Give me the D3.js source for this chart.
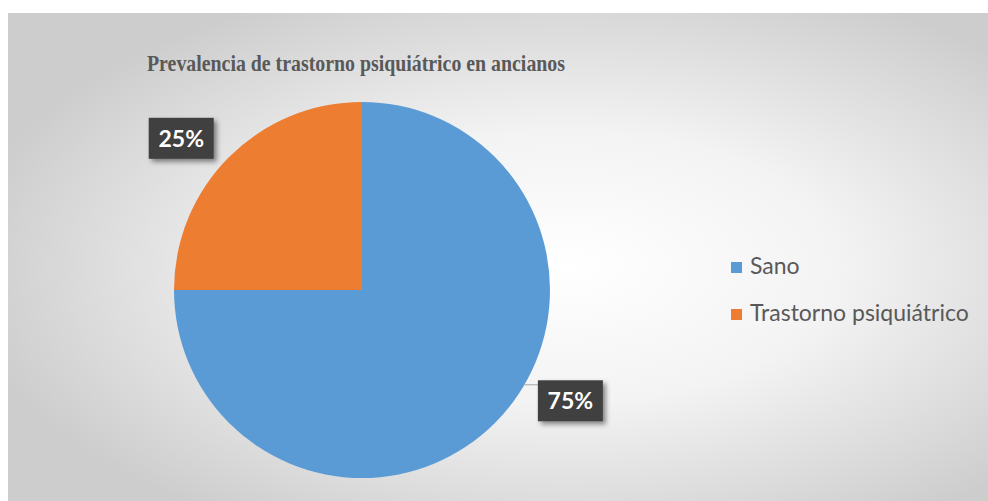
<!DOCTYPE html>
<html>
<head>
<meta charset="utf-8">
<script src="https://cdn.jsdelivr.net/npm/d3@7"></script>
<style>
  html, body { margin: 0; padding: 0; background: #ffffff; }
  svg { display: block; }
</style>
</head>
<body>
<svg id="chart" width="988" height="501"></svg>
<script>
// Data
const categories = ["Sano", "Trastorno psiquiátrico"];
const values = [75, 25];
const colors = ["#5B9BD5", "#ED7D31"];
const chartTitle = "Prevalencia de trastorno psiquiátrico en ancianos";

const width = 988, height = 501;
const svg = d3.select("#chart");
const defs = svg.append("defs");

// Soft radial background of the chart area
const bg = defs.append("radialGradient")
  .attr("id", "bgGrad")
  .attr("cx", "57%").attr("cy", "52%").attr("r", "62%");
bg.append("stop").attr("offset", "0%").attr("stop-color", "#ffffff");
bg.append("stop").attr("offset", "45%").attr("stop-color", "#f3f3f3");
bg.append("stop").attr("offset", "100%").attr("stop-color", "#cdcdcd");

const shadow = defs.append("filter").attr("id", "labelShadow")
  .attr("x", "-30%").attr("y", "-30%").attr("width", "170%").attr("height", "170%");
shadow.append("feDropShadow")
  .attr("dx", 3).attr("dy", 3).attr("stdDeviation", 2.5)
  .attr("flood-color", "#000").attr("flood-opacity", 0.45);

svg.append("rect")
  .attr("x", 8).attr("y", 13)
  .attr("width", width - 8).attr("height", height - 13)
  .attr("fill", "url(#bgGrad)");

// Title
svg.append("text")
  .attr("x", 147).attr("y", 71)
  .attr("font-family", "'Liberation Serif', 'DejaVu Serif', serif")
  .attr("font-weight", "bold")
  .attr("font-size", 24)
  .attr("textLength", 418)
  .attr("lengthAdjust", "spacingAndGlyphs")
  .attr("fill", "#595959")
  .text(chartTitle);

// Pie
const cx = 362, cy = 290, radius = 188;
const data = categories.map((c, i) => ({ name: c, value: values[i], color: colors[i] }));
const pie = d3.pie().value(d => d.value).sort(null);
const arcs = pie(data);
const arc = d3.arc().innerRadius(0).outerRadius(radius);

const g = svg.append("g").attr("transform", `translate(${cx},${cy})`);
g.selectAll("path.slice")
  .data(arcs)
  .join("path")
  .attr("class", "slice")
  .attr("d", arc)
  .attr("fill", d => d.data.color);

// Data labels placed outside the pie (best-fit style)
const labelRadius = 236;
const labelNudge = [-17 * Math.PI / 180, -5 * Math.PI / 180];
const total = d3.sum(values);
const fmt = v => Math.round(v / total * 100) + "%";

arcs.forEach((a, i) => {
  const ang = (a.startAngle + a.endAngle) / 2 + labelNudge[i];
  const lx = Math.sin(ang) * labelRadius;
  const ly = -Math.cos(ang) * labelRadius;
  const bw = 65, bh = 41;

  if (i === 0) {
    // leader line from the slice edge to the label box
    const ey = ly - 16;
    const ex = Math.sqrt(radius * radius - ey * ey);
    g.append("line")
      .attr("x1", ex).attr("y1", ey)
      .attr("x2", lx - bw / 2).attr("y2", ey)
      .attr("stroke", "#a6a6a6").attr("stroke-width", 1);
  }

  const lg = g.append("g").attr("transform", `translate(${lx},${ly})`);
  lg.append("rect")
    .attr("x", -bw / 2).attr("y", -bh / 2)
    .attr("width", bw).attr("height", bh)
    .attr("fill", "#404040")
    .attr("filter", "url(#labelShadow)");
  lg.append("text")
    .attr("text-anchor", "middle")
    .attr("dy", "0.36em")
    .attr("font-family", "Lato, 'Open Sans', sans-serif")
    .attr("font-weight", "bold")
    .attr("font-size", 23)
    .attr("fill", "#ffffff")
    .text(fmt(a.data.value));
});

// Legend
const legend = svg.append("g").attr("transform", "translate(731,262)");
const items = legend.selectAll("g.item")
  .data(data)
  .join("g")
  .attr("class", "item")
  .attr("transform", (d, i) => `translate(0,${i * 47})`);
items.append("rect")
  .attr("width", 11).attr("height", 11)
  .attr("fill", d => d.color);
items.append("text")
  .attr("x", 19).attr("y", 12)
  .attr("font-family", "Lato, 'Open Sans', sans-serif")
  .attr("font-size", 23)
  .attr("fill", "#595959")
  .text(d => d.name);
</script>
</body>
</html>
